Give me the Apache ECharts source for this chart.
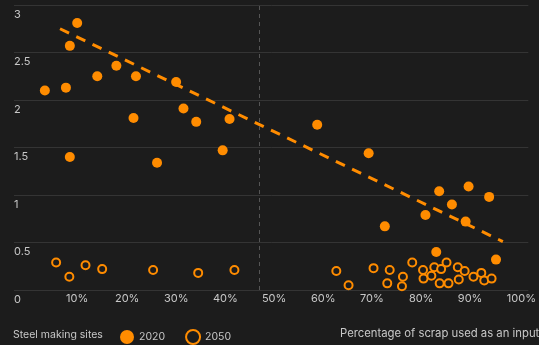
<!DOCTYPE html>
<html>
<head>
<meta charset="utf-8">
<script src="https://cdn.jsdelivr.net/npm/echarts@6/dist/echarts.min.js"></script>
<style>
html,body{margin:0;padding:0;background:#1c1c1c;}
#c{width:539px;height:345px;}
</style>
</head>
<body>
<div id="c"></div>
<script>
// Data: [share of scrap input, value]
const sites2020 = [
  [0.063, 2.10], [0.106, 2.13], [0.129, 2.81], [0.114, 2.57], [0.170, 2.25],
  [0.209, 2.36], [0.249, 2.25], [0.244, 1.81], [0.331, 2.19], [0.346, 1.91],
  [0.372, 1.77], [0.440, 1.80], [0.426, 1.47], [0.114, 1.40], [0.292, 1.34],
  [0.619, 1.74], [0.724, 1.44], [0.868, 1.04], [0.928, 1.09], [0.970, 0.98],
  [0.894, 0.90], [0.840, 0.79], [0.922, 0.72], [0.757, 0.67], [0.862, 0.40],
  [0.984, 0.32]
];
const sites2050 = [
  [0.086, 0.29], [0.113, 0.14], [0.146, 0.26], [0.180, 0.22], [0.284, 0.21],
  [0.376, 0.18], [0.450, 0.21], [0.658, 0.20], [0.683, 0.05], [0.734, 0.23],
  [0.767, 0.21], [0.762, 0.07], [0.794, 0.14], [0.792, 0.04], [0.813, 0.29],
  [0.835, 0.21], [0.836, 0.12], [0.852, 0.15], [0.858, 0.24], [0.872, 0.22],
  [0.883, 0.29], [0.869, 0.07], [0.887, 0.07], [0.906, 0.24], [0.920, 0.20],
  [0.908, 0.11], [0.938, 0.14], [0.954, 0.18], [0.960, 0.10], [0.975, 0.12]
];
const trendLine = [[0.094, 2.75], [0.998, 0.51]];
const referenceX = 0.5;
const xTickLabels = {0: '0', 0.1: '10%', 0.2: '20%', 0.3: '30%', 0.4: '40%', 0.5: '50%', 0.6: '60%', 0.7: '70%', 0.8: '80%', 0.9: '90%', 1: '100%'};
const yTickLabels = {0: '0', 0.5: '0.5', 1: '1', 1.5: '1.5', 2: '2', 2.5: '2.5', 3: '3'};
const legendTitle = 'Steel making sites';
const seriesNames = ['2020', '2050'];
const xAxisTitle = 'Percentage of scrap used as an input';

const orange = '#ff8c00';
const textColor = '#c8c8c8';
const fontFamily = 'Inter, "Noto Sans", sans-serif';

const chart = echarts.init(document.getElementById('c'), null, {renderer: 'canvas'});
chart.setOption({
  backgroundColor: '#1c1c1c',
  animation: false,
  textStyle: {fontFamily: fontFamily},
  title: [
    {text: legendTitle, left: 13, top: 329, padding: 0, textStyle: {color: textColor, fontSize: 10.5, fontWeight: 'normal', fontFamily: fontFamily}},
    {text: xAxisTitle, left: 340, top: 328, padding: 0, textStyle: {color: textColor, fontSize: 11.3, fontWeight: 'normal', fontFamily: fontFamily}}
  ],
  legend: {
    left: 120, top: 329, padding: 0,
    itemWidth: 14, itemHeight: 14, itemGap: 20,
    data: [
      {name: seriesNames[0], icon: 'circle'},
      {name: seriesNames[1], icon: 'circle'}
    ],
    textStyle: {color: textColor, fontSize: 10.5, fontFamily: fontFamily}
  },
  grid: {left: 14, top: 5, width: 525, height: 285, containLabel: false},
  xAxis: {
    type: 'value', min: 0, max: 1.05, interval: 0.1,
    axisLine: {show: false}, axisTick: {show: false}, splitLine: {show: false},
    axisLabel: {
      color: textColor, fontSize: 11, align: 'left', margin: 3, padding: [0, 0, 0, 3],
      showMaxLabel: false, showMinLabel: false,
      formatter: v => xTickLabels[Math.round(v * 10) / 10] ?? ''
    }
  },
  yAxis: {
    type: 'value', min: 0, max: 3, interval: 0.5,
    axisLine: {show: false}, axisTick: {show: false},
    splitLine: {lineStyle: {color: '#343434', width: 1}},
    axisLabel: {
      inside: true, color: textColor, fontSize: 11, margin: 0, align: 'left',
      verticalAlign: 'top', padding: [4, 0, 0, 0],
      formatter: v => yTickLabels[v] ?? ''
    }
  },
  series: [
    {
      name: 'ref', type: 'line', data: [], silent: true,
      markLine: {
        silent: true, symbol: 'none', label: {show: false},
        lineStyle: {color: '#555', type: [4, 4], width: 1},
        data: [{xAxis: referenceX}]
      }
    },
    {
      name: 'trend', type: 'line', data: trendLine, symbol: 'none', silent: true,
      lineStyle: {color: orange, width: 3, type: [10, 8]}, z: 1
    },
    {
      name: seriesNames[0], type: 'scatter', data: sites2020, symbol: 'circle', symbolSize: 10,
      itemStyle: {color: orange, opacity: 1}, z: 3
    },
    {
      name: seriesNames[1], type: 'scatter', data: sites2050, symbol: 'circle', symbolSize: 8,
      itemStyle: {color: '#1c1c1c', borderColor: orange, borderWidth: 2, opacity: 1}, z: 3
    }
  ]
});
</script>
</body>
</html>
